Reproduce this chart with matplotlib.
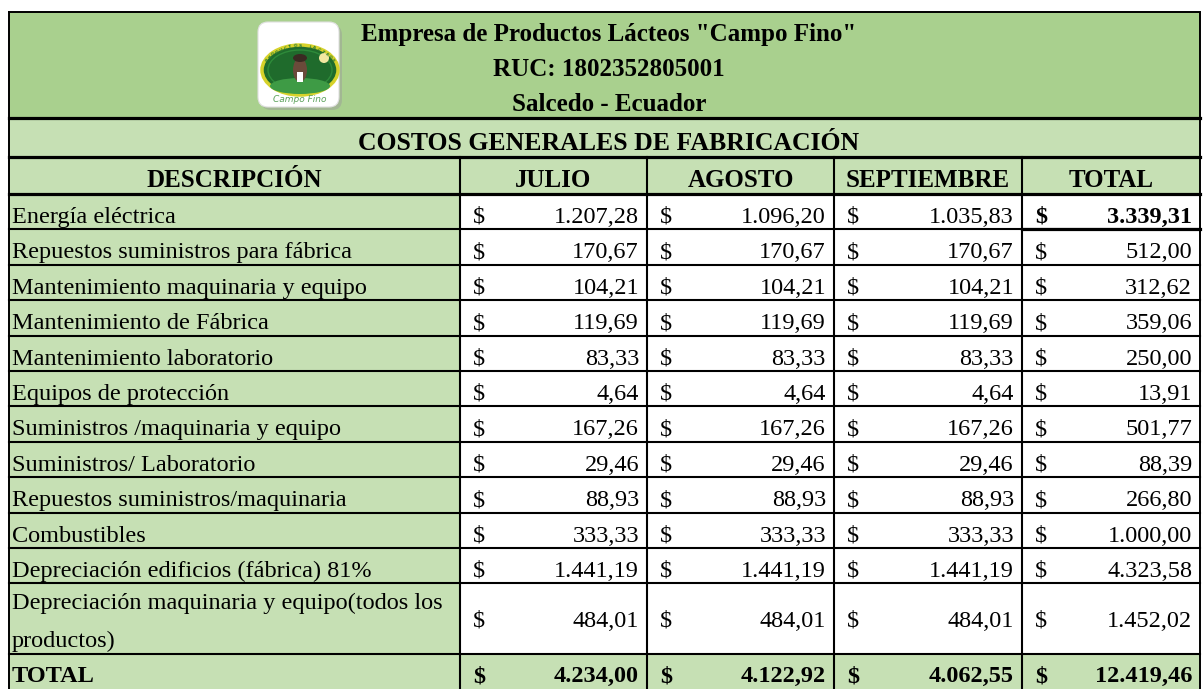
import numpy as np
import matplotlib.pyplot as plt
from matplotlib.patches import Rectangle, Ellipse, FancyBboxPatch

empresa = 'Empresa de Productos Lácteos "Campo Fino"'
ruc = 'RUC: 1802352805001'
ciudad = 'Salcedo - Ecuador'
titulo = 'COSTOS GENERALES DE FABRICACIÓN'
columnas = ['DESCRIPCIÓN', 'JULIO', 'AGOSTO', 'SEPTIEMBRE', 'TOTAL']

descripcion = ['Energía eléctrica',
               'Repuestos suministros para fábrica',
               'Mantenimiento maquinaria y equipo',
               'Mantenimiento de Fábrica',
               'Mantenimiento laboratorio',
               'Equipos de protección',
               'Suministros /maquinaria y equipo',
               'Suministros/ Laboratorio',
               'Repuestos suministros/maquinaria',
               'Combustibles',
               'Depreciación edificios (fábrica) 81%',
               'Depreciación maquinaria y equipo(todos los\nproductos)']
julio = [1207.28, 170.67, 104.21, 119.69, 83.33, 4.64, 167.26, 29.46, 88.93, 333.33, 1441.19, 484.01]
agosto = [1096.20, 170.67, 104.21, 119.69, 83.33, 4.64, 167.26, 29.46, 88.93, 333.33, 1441.19, 484.01]
septiembre = [1035.83, 170.67, 104.21, 119.69, 83.33, 4.64, 167.26, 29.46, 88.93, 333.33, 1441.19, 484.01]
total = [3339.31, 512.00, 312.62, 359.06, 250.00, 13.91, 501.77, 88.39, 266.80, 1000.00, 4323.58, 1452.02]
total_mes = [4234.00, 4122.92, 4062.55, 12419.46]


def fmt(v):
    s = f'{v:,.2f}'
    return s.replace(',', 'X').replace('.', ',').replace('X', '.')


plt.rcParams['font.family'] = ['Liberation Serif', 'DejaVu Serif']
VERDE = '#A9D08E'
CLARO = '#C6E0B4'
FS = 17.5

fig = plt.figure(figsize=(12.03, 6.89), dpi=100)
ax = fig.add_axes([0, 0, 1, 1])
ax.set_xlim(0, 1203)
ax.set_ylim(689, 0)
ax.axis('off')

col_x = [9, 460, 647, 834, 1022, 1200]
y_top, y_logo, y_costos, y_head = 12, 118, 157, 194
h = 35.4
alturas = [1] * 11 + [2] + [1]
y_rows = [y_head]
for a in alturas:
    y_rows.append(y_rows[-1] + a * h)
y_bot = y_rows[-1]
x0, x1 = col_x[0], col_x[-1]

# fondos
ax.add_patch(Rectangle((x0, y_top), x1 - x0, y_logo - y_top, color=VERDE, lw=0))
ax.add_patch(Rectangle((x0, y_logo), x1 - x0, y_head - y_logo, color=CLARO, lw=0))
ax.add_patch(Rectangle((x0, y_head), col_x[1] - x0, y_bot - y_head, color=CLARO, lw=0))
ax.add_patch(Rectangle((x0, y_rows[-2]), x1 - x0, y_bot - y_rows[-2], color=CLARO, lw=0))

# encabezado
cx = 609
ax.text(cx, 41, empresa, ha='center', va='baseline', fontsize=18, fontweight='bold')
ax.text(cx, 76, ruc, ha='center', va='baseline', fontsize=18, fontweight='bold')
ax.text(cx, 111, ciudad, ha='center', va='baseline', fontsize=18, fontweight='bold')
ax.text(cx, 150, titulo, ha='center', va='baseline', fontsize=18.5, fontweight='bold')
for i, c in enumerate(columnas):
    ax.text((col_x[i] + col_x[i + 1]) / 2, 187, c, ha='center', va='baseline',
            fontsize=18, fontweight='bold')

# logo
ax.add_patch(FancyBboxPatch((261, 25), 81, 85, boxstyle='round,pad=0,rounding_size=10',
                            fc='#9a9a9a', ec='none', alpha=0.45))
ax.add_patch(FancyBboxPatch((258, 22), 81, 85, boxstyle='round,pad=0,rounding_size=10',
                            fc='white', ec='#e0e0e0', lw=0.8))
ax.add_patch(Ellipse((300, 70), 76, 50, fc='#1f6b2c', ec='#d6d22a', lw=2.5))
ax.add_patch(Ellipse((300, 70), 64, 40, fc='none', ec='#2e8b3a', lw=1))
ax.add_patch(Ellipse((300, 86), 60, 16, fc='#3e9b45', ec='none'))
ax.add_patch(Ellipse((300, 70), 14, 24, fc='#6b4a3a', ec='none'))
ax.add_patch(Ellipse((300, 58), 14, 8, fc='#3a2a22', ec='none'))
ax.add_patch(Rectangle((297, 72), 6, 10, fc='white', ec='none'))
ax.add_patch(Ellipse((324, 58), 10, 10, fc='#f2e7a0', ec='none'))
letras = 'PRODUCTOS LACTEOS'
ang = np.linspace(np.pi * 0.85, np.pi * 0.15, len(letras))
for ch, t in zip(letras, ang):
    ax.text(300 + 36 * np.cos(t), 72 - 26 * np.sin(t), ch, ha='center', va='center',
            fontsize=3.2, color='#2e7d32', fontweight='bold', family='DejaVu Sans',
            rotation=np.degrees(t) - 90)
ax.text(300, 99, 'Campo Fino', ha='center', va='center', fontsize=6.5,
        color='#5aa05a', style='italic', family='DejaVu Sans')

# filas
for r, desc in enumerate(descripcion):
    top, bot = y_rows[r], y_rows[r + 1]
    lineas = desc.split('\n')
    if len(lineas) == 1:
        ax.text(12, top + 29, desc, ha='left', va='baseline', fontsize=FS)
        yb = top + 29
    else:
        for k, ln in enumerate(lineas):
            ax.text(12, top + 26 + 38 * k, ln, ha='left', va='baseline', fontsize=FS)
        yb = (top + bot) / 2 + 8
    valores = [julio[r], agosto[r], septiembre[r], total[r]]
    for j, v in enumerate(valores):
        peso = 'bold' if (r == 0 and j == 3) else 'normal'
        ax.text(col_x[j + 1] + 13, yb, '$', ha='left', va='baseline', fontsize=FS, fontweight=peso)
        ax.text(col_x[j + 2] - 8, yb, fmt(v), ha='right', va='baseline', fontsize=FS,
                fontweight=peso)

yb = y_rows[-2] + 28
ax.text(12, yb, 'TOTAL', ha='left', va='baseline', fontsize=FS, fontweight='bold')
for j, v in enumerate(total_mes):
    ax.text(col_x[j + 1] + 13, yb, '$', ha='left', va='baseline', fontsize=FS, fontweight='bold')
    ax.text(col_x[j + 2] - 8, yb, fmt(v), ha='right', va='baseline', fontsize=FS,
            fontweight='bold')

# bordes
ax.plot([x0, x1, x1, x0, x0], [y_top, y_top, y_bot, y_bot, y_top], color='black', lw=1.4,
        solid_joinstyle='miter')
for y in [y_logo, y_costos, y_head]:
    ax.plot([x0, x1], [y, y], color='black', lw=2.3)
for y in y_rows[1:-1]:
    ax.plot([x0, x1], [y, y], color='black', lw=1.5)
ax.plot([col_x[-2], x1], [y_rows[1], y_rows[1]], color='black', lw=2.3)
for x in col_x[1:-1]:
    ax.plot([x, x], [y_costos, y_bot], color='black', lw=1.5)

fig.savefig('out.png', dpi=100)
